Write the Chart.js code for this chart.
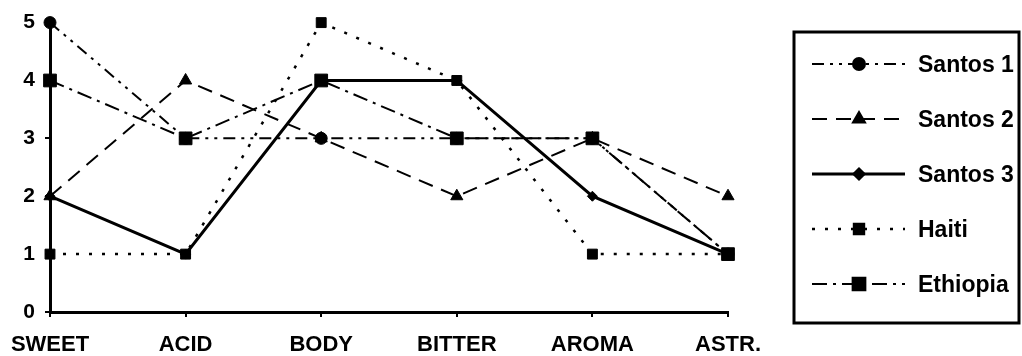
<!DOCTYPE html>
<html>
<head>
<meta charset="utf-8">
<script src="https://cdn.jsdelivr.net/npm/chart.js@4/dist/chart.umd.min.js"></script>
<style>
  html, body { margin: 0; padding: 0; background: #fff; }
  #wrap { width: 1022px; height: 356px; }
</style>
</head>
<body>
<div id="wrap"><canvas id="chart"></canvas></div>
<script>
// taste profile scores
const categories = ['SWEET', 'ACID', 'BODY', 'BITTER', 'AROMA', 'ASTR.'];
const santos1 = [5, 3, 3, 3, 3, 1];
const santos2 = [2, 4, 3, 2, 3, 2];
const santos3 = [2, 1, 4, 4, 2, 1];
const haiti = [1, 1, 5, 4, 1, 1];
const ethiopia = [4, 3, 4, 3, 3, 1];
const yTicks = [0, 1, 2, 3, 4, 5];

const FONT = '"Liberation Sans", Arial, sans-serif';

function series(label, data, dash, width, style, radius) {
  return {
    label: label,
    data: data,
    borderColor: '#000',
    backgroundColor: '#000',
    borderWidth: width,
    borderDash: dash,
    tension: 0,
    clip: false,
    pointStyle: style,
    pointRadius: radius,
    pointBackgroundColor: '#000',
    pointBorderColor: '#000',
    pointBorderWidth: 1
  };
}

// boxed legend on the right, each sample shows dash pattern + marker
const boxLegend = {
  id: 'boxLegend',
  afterDraw(chart) {
    const ctx = chart.ctx;
    const left = 794, top = 32, right = 1019, bottom = 323;
    ctx.save();
    ctx.strokeStyle = '#000';
    ctx.fillStyle = '#000';
    ctx.lineWidth = 3;
    ctx.strokeRect(left, top, right - left, bottom - top);
    chart.data.datasets.forEach((ds, i) => {
      const y = 64 + i * 55;
      ctx.lineWidth = ds.borderWidth;
      ctx.setLineDash(ds.borderDash);
      ctx.beginPath();
      ctx.moveTo(812, y);
      ctx.lineTo(905, y);
      ctx.stroke();
      ctx.setLineDash([]);
      Chart.helpers.drawPoint(ctx, {
        pointStyle: ds.pointStyle,
        radius: ds.pointRadius,
        borderWidth: 1,
        rotation: 0
      }, 859, y);
      ctx.font = 'bold 23px ' + FONT;
      ctx.textBaseline = 'middle';
      ctx.textAlign = 'left';
      ctx.fillText(ds.label, 918, y + 2);
    });
    ctx.restore();
  }
};

new Chart(document.getElementById('chart'), {
  type: 'line',
  data: {
    labels: categories,
    datasets: [
      series('Santos 1', santos1, [12, 6, 3, 6, 3, 6], 2, 'circle', 6),
      series('Santos 2', santos2, [15, 9], 2, 'triangle', 7),
      series('Santos 3', santos3, [], 3, 'rectRot', 5),
      series('Haiti', haiti, [3, 10], 2.5, 'rect', 7),
      series('Ethiopia', ethiopia, [15, 6, 3, 6], 2, 'rect', 9)
    ]
  },
  options: {
    responsive: true,
    maintainAspectRatio: false,
    animation: false,
    layout: { padding: { left: 0, right: 294, top: 14, bottom: 0 } },
    plugins: {
      legend: { display: false },
      tooltip: { enabled: false }
    },
    scales: {
      x: {
        offset: false,
        afterFit(scale) {
          scale.height = 44;
          scale.paddingLeft = 0;
        },
        grid: { drawOnChartArea: false, drawTicks: true, tickLength: 5, color: '#000', lineWidth: 2 },
        border: { display: true, color: '#000', width: 3 },
        ticks: {
          color: '#000',
          font: { family: FONT, size: 22, weight: 'bold' },
          padding: 15,
          maxRotation: 0,
          autoSkip: false
        }
      },
      y: {
        min: yTicks[0],
        max: yTicks[yTicks.length - 1],
        afterFit(scale) { scale.width = 50; },
        grid: { drawOnChartArea: false, drawTicks: true, tickLength: 5, color: '#000', lineWidth: 2 },
        border: { display: true, color: '#000', width: 3 },
        ticks: {
          stepSize: 1,
          color: '#000',
          font: { family: FONT, size: 21, weight: 'bold' },
          padding: 10
        }
      }
    }
  },
  plugins: [boxLegend]
});
</script>
</body>
</html>
